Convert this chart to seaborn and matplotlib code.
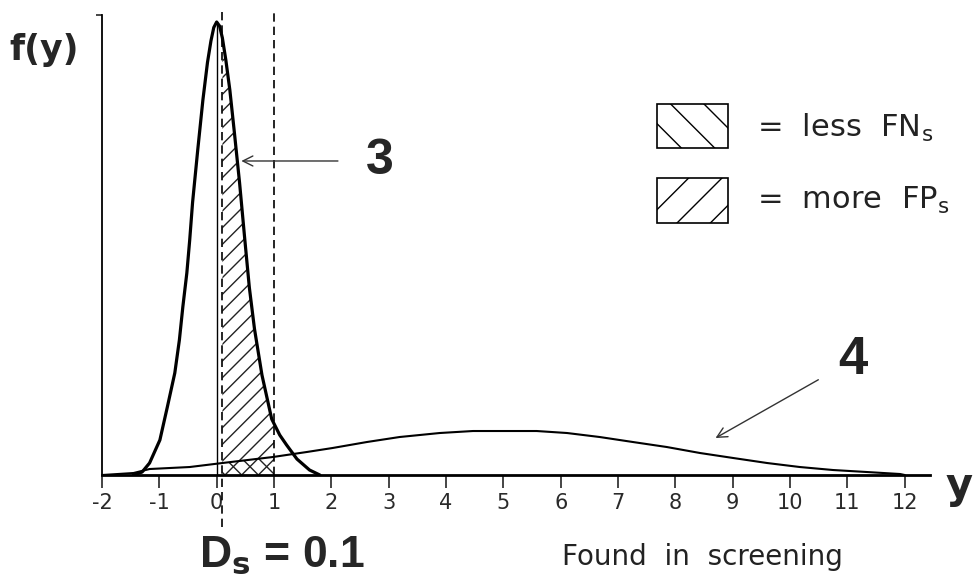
import numpy as np
import seaborn as sns
import matplotlib.pyplot as plt
from matplotlib.patches import Rectangle

# curve 3 (narrow, healthy)
narrow_x = [-1.45, -1.30, -1.17, -0.99, -0.86, -0.73, -0.65, -0.59, -0.52, -0.47,
            -0.42, -0.33, -0.24, -0.16, -0.10, -0.05, 0.00, 0.05, 0.10, 0.16, 0.23, 0.31,
            0.40, 0.49, 0.57, 0.66, 0.79, 0.96, 1.10, 1.22, 1.40, 1.62, 1.80]
narrow_f = [0.000, 0.006, 0.024, 0.070, 0.136, 0.204, 0.270, 0.336, 0.404, 0.470,
            0.545, 0.650, 0.750, 0.825, 0.868, 0.895, 0.906, 0.898, 0.874, 0.830, 0.770, 0.684,
            0.584, 0.472, 0.375, 0.292, 0.200, 0.112, 0.080, 0.060, 0.032, 0.010, 0.000]

# curve 4 (wide, found in screening)
wide_x = [-2.00, -1.45, -1.17, -0.47, 0.10, 0.98, 1.57, 2.02, 2.62, 3.19, 3.89, 4.47, 5.06,
          5.58, 6.11, 6.68, 7.26, 7.85, 8.43, 9.01, 9.60, 10.17, 10.75, 11.34, 11.92, 12.00]
wide_f = [0.000, 0.004, 0.012, 0.016, 0.024, 0.036, 0.046, 0.054, 0.066, 0.076, 0.084, 0.088, 0.088,
          0.088, 0.084, 0.076, 0.066, 0.056, 0.044, 0.034, 0.024, 0.016, 0.010, 0.006, 0.002, 0.000]

x_ticks = list(range(-2, 13))
cut_new = 0.1   # D_s
cut_old = 1.0

sns.set_theme(style='white')
plt.rcParams['font.family'] = ['DejaVu Sans']

fig = plt.figure(figsize=(9.73, 5.85), dpi=100)
ax = fig.add_axes([0.1048, 0.188, 0.851, 0.7864])

sns.lineplot(x=narrow_x, y=narrow_f, ax=ax, color='black', linewidth=2.3, sort=False)
sns.lineplot(x=wide_x, y=wide_f, ax=ax, color='black', linewidth=1.5, sort=False)

# hatched areas between the two cut-offs
def band(xs, fs):
    inner = [v for v in xs if cut_new < v < cut_old]
    bx = np.array([cut_new] + inner + [cut_old])
    return bx, np.interp(bx, xs, fs)

bx, bf = band(narrow_x, narrow_f)
ax.fill_between(bx, 0, bf, facecolor='none', edgecolor='#222222', hatch='//', linewidth=0)
bx, bf = band(wide_x, wide_f)
ax.fill_between(bx, 0, bf, facecolor='none', edgecolor='#222222', hatch='\\\\', linewidth=0)

# reference lines
ax.vlines(0, 0, max(narrow_f), color='black', linewidth=1.0)
ax.axvline(cut_new, ymin=-0.113, ymax=1.011, color='black', linestyle=(0, (5, 3)),
           linewidth=1.2, clip_on=False)
ax.axvline(cut_old, ymin=0, ymax=1.007, color='black', linestyle=(0, (5, 3)),
           linewidth=1.2, clip_on=False)

ax.set_xlim(-2, 12.44)
ax.set_ylim(0, 0.92)
ax.set_xticks(x_ticks)
ax.set_xticklabels([str(t) for t in x_ticks], fontsize=15, color='#2a2a2a')
ax.set_yticks([0.92])
ax.set_yticklabels([''])
ax.tick_params(axis='x', direction='out', length=9, width=1.2, bottom=True, pad=4)
ax.tick_params(axis='y', direction='out', length=4.5, width=1.2, left=True)
ax.set_xlabel('')
ax.set_ylabel('')
for s in ['top', 'right']:
    ax.spines[s].set_visible(False)
ax.spines['left'].set_linewidth(1.3)
ax.spines['bottom'].set_linewidth(2.0)
ax.spines['left'].set_color('black')
ax.spines['bottom'].set_color('black')

# annotations
ax.annotate('3', xy=(0.43, 0.628), xytext=(2.85, 0.628), fontsize=36, fontweight='bold',
            family='Liberation Sans', va='center', ha='center',
            arrowprops=dict(arrowstyle='->', color='#333333', lw=1.0, mutation_scale=18,
                            shrinkB=0, shrinkA=18))
ax.annotate('4', xy=(8.7, 0.074), xytext=(11.1, 0.23), fontsize=38, fontweight='bold',
            family='Liberation Sans', va='center', ha='center', color='#222222',
            arrowprops=dict(arrowstyle='->', color='#333333', lw=1.0, mutation_scale=18,
                            shrinkB=0, shrinkA=14))

# legend boxes
fig.add_artist(Rectangle((0.675, 0.747), 0.073, 0.075, transform=fig.transFigure,
                         facecolor='none', edgecolor='black', hatch='\\', linewidth=1.2))
fig.add_artist(Rectangle((0.675, 0.619), 0.073, 0.077, transform=fig.transFigure,
                         facecolor='none', edgecolor='black', hatch='/', linewidth=1.2))
fig.text(0.778, 1 - 128 / 585, r'=  less  FN$_{\rm s}$', fontsize=22, va='center',
         color='#222222')
fig.text(0.778, 1 - 200 / 585, r'=  more  FP$_{\rm s}$', fontsize=22, va='center',
         color='#222222')

# axis texts
fig.text(0.010, 1 - 50 / 585, 'f(y)', fontsize=25, fontweight='bold', va='center')
fig.text(0.972, 1 - 486 / 585, 'y', fontsize=30, fontweight='bold', va='center', ha='left')
fig.text(0.205, 1 - 555 / 585, r'D$_{\mathbf{s}}$ = 0.1', fontsize=32, fontweight='bold',
         va='center', ha='left', family='Liberation Sans')
fig.text(0.722, 1 - 557 / 585, 'Found  in  screening', fontsize=20, va='center',
         ha='center', color='#222222')

plt.savefig('out.png', dpi=100)
